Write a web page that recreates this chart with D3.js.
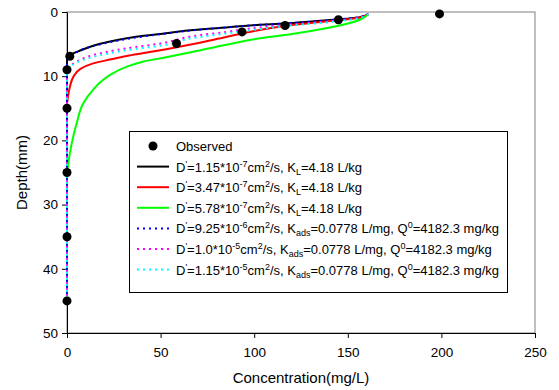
<!DOCTYPE html>
<html>
<head>
<meta charset="utf-8">
<script src="https://cdn.jsdelivr.net/npm/d3@7"></script>
<style>
  html, body { margin: 0; padding: 0; background: #fff; }
  svg { display: block; font-family: "Liberation Sans", Arial, sans-serif; }
</style>
</head>
<body>
<svg id="chart" width="559" height="390"></svg>
<script>
// ---- data ----
const xTicks = [0, 50, 100, 150, 200, 250];
const yTicks = [0, 10, 20, 30, 40, 50];

// observed: [concentration, depth]
const observedC = [199, 145, 116.5, 93.5, 58.5, 1.5, 0, 0, 0, 0, 0];
const observedD = [0.3, 1.2, 2.1, 3.1, 4.9, 6.9, 9, 15, 25, 35, 45];

const blackC = [161, 156.5, 139, 121, 103, 85, 67.5, 53, 41, 32, 23, 14, 7, 3, 1, 0, 0];
const blackD = [0.3, 0.8, 1.3, 1.7, 2.0, 2.4, 2.8, 3.3, 3.7, 4.1, 4.6, 5.25, 6.0, 6.5, 6.9, 7.3, 45];

const redC = [161, 156.5, 139, 121, 103, 85, 67.5, 53, 41, 32, 23, 14, 7, 3.4, 1.6, 0.5, 0, 0];
const redD = [0.3, 0.85, 1.45, 2.0, 2.8, 3.9, 5.0, 5.8, 6.4, 6.85, 7.4, 8.0, 8.9, 10.1, 11.6, 13.2, 14.5, 45];

const greenC = [161, 156.5, 139, 121, 103, 85, 67.5, 53, 41, 32, 23, 17.6, 14, 8.7, 5.2, 2.5, 0.7, 0, 0];
const greenD = [0.3, 1.2, 2.5, 3.4, 4.1, 5.1, 6.2, 7.05, 7.7, 8.5, 9.8, 11.0, 12.1, 14.2, 17.3, 20.5, 23.6, 26, 45];

const blueC = [161, 156, 139, 121, 103, 85, 67.5, 53, 41, 32, 23, 14, 7, 3, 1, 0, 0];
const blueD = [0.3, 0.8, 1.3, 1.7, 2.0, 2.4, 2.85, 3.35, 3.8, 4.2, 4.7, 5.3, 6.0, 6.6, 7.0, 7.4, 45];

const magentaC = [161, 156, 139, 121, 103, 85, 67.5, 50, 32, 14, 5.2, 1.5, 0, 0];
const magentaD = [0.3, 0.9, 1.5, 1.9, 2.4, 3.1, 3.75, 4.9, 5.65, 6.7, 7.7, 8.5, 9.0, 45];

const cyanC = [161, 156, 139, 121, 103, 85, 67.5, 50, 32, 14, 4.3, 1.5, 0, 0];
const cyanD = [0.3, 0.95, 1.6, 2.05, 2.65, 3.35, 4.05, 5.25, 5.95, 7.0, 8.0, 8.9, 9.6, 45];

const seriesNames = ["black", "red", "green", "blue", "magenta", "cyan"];
const seriesColors = ["#000000", "#ff0000", "#00ff00", "#0000ff", "#ff00ff", "#00ffff"];
const seriesDotted = [false, false, false, true, true, true];
const seriesC = [blackC, redC, greenC, blueC, magentaC, cyanC];
const seriesD = [blackD, redD, greenD, blueD, magentaD, cyanD];

// legend labels: segments [text, mode] mode: n normal, sup, sub
const legendLabels = [
  [["D","n"],["'","sup"],["=1.15*10","n"],["-7","sup"],["cm","n"],["2","sup"],["/s, K","n"],["L","sub"],["=4.18 L/kg","n"]],
  [["D","n"],["'","sup"],["=3.47*10","n"],["-7","sup"],["cm","n"],["2","sup"],["/s, K","n"],["L","sub"],["=4.18 L/kg","n"]],
  [["D","n"],["'","sup"],["=5.78*10","n"],["-7","sup"],["cm","n"],["2","sup"],["/s, K","n"],["L","sub"],["=4.18 L/kg","n"]],
  [["D","n"],["'","sup"],["=9.25*10","n"],["-6","sup"],["cm","n"],["2","sup"],["/s, K","n"],["ads","sub"],["=0.0778 L/mg, Q","n"],["0","sup"],["=4182.3 mg/kg","n"]],
  [["D","n"],["'","sup"],["=1.0*10","n"],["-5","sup"],["cm","n"],["2","sup"],["/s, K","n"],["ads","sub"],["=0.0778 L/mg, Q","n"],["0","sup"],["=4182.3 mg/kg","n"]],
  [["D","n"],["'","sup"],["=1.15*10","n"],["-5","sup"],["cm","n"],["2","sup"],["/s, K","n"],["ads","sub"],["=0.0778 L/mg, Q","n"],["0","sup"],["=4182.3 mg/kg","n"]]
];

// ---- layout ----
const svg = d3.select("#chart");
const mLeft = 67, mRight = 535, mTop = 12, mBottom = 333;
const x = d3.scaleLinear().domain([0, 250]).range([mLeft, mRight]);
const y = d3.scaleLinear().domain([0, 50]).range([mTop, mBottom]);

// plot border (gray)
svg.append("rect").attr("x", mLeft).attr("y", mTop).attr("width", mRight - mLeft).attr("height", mBottom - mTop)
  .attr("fill", "none").attr("stroke", "#808080").attr("stroke-width", 1);

// axes
const xAxis = svg.append("g").attr("transform", `translate(0,${mBottom})`)
  .call(d3.axisBottom(x).tickValues(xTicks).tickSize(5).tickPadding(9).tickSizeOuter(0));
const yAxis = svg.append("g").attr("transform", `translate(${mLeft},0)`)
  .call(d3.axisLeft(y).tickValues(yTicks).tickSize(5).tickPadding(4).tickSizeOuter(0));
[xAxis, yAxis].forEach(a => {
  a.select(".domain").attr("stroke", "#000");
  a.selectAll(".tick line").attr("stroke", "#000");
  a.selectAll("text").attr("font-size", 13.5).attr("fill", "#000")
    .attr("font-family", '"Liberation Sans", Arial, sans-serif');
});

// axis titles
svg.append("text").attr("x", (mLeft + mRight) / 2).attr("y", 383).attr("text-anchor", "middle")
  .attr("font-size", 15).text("Concentration(mg/L)");
svg.append("text").attr("transform", `translate(27,${(mTop + mBottom) / 2}) rotate(-90)`)
  .attr("text-anchor", "middle").attr("font-size", 15).text("Depth(mm)");

// lines
const line = d3.line().x(d => x(d[0])).y(d => y(d[1])).curve(d3.curveMonotoneY);
seriesNames.forEach((name, i) => {
  const pts = seriesC[i].map((c, j) => [c, seriesD[i][j]]);
  const p = svg.append("path").datum(pts).attr("d", line).attr("fill", "none")
    .attr("stroke", seriesColors[i]).attr("stroke-width", 2);
  if (seriesDotted[i]) p.attr("stroke-dasharray", "2,4");
});

// observed markers
const obs = observedC.map((c, j) => [c, observedD[j]]);
svg.selectAll("circle.obs").data(obs).join("circle").attr("class", "obs")
  .attr("cx", d => x(d[0])).attr("cy", d => y(d[1])).attr("r", 4.5).attr("fill", "#000");

// legend
const lg = svg.append("g");
lg.append("rect").attr("x", 129.5).attr("y", 131.5).attr("width", 378).attr("height", 161)
  .attr("fill", "#fff").attr("stroke", "#000").attr("stroke-width", 1);
const rowY0 = 146, rowStep = 20.6;
lg.append("circle").attr("cx", 153).attr("cy", rowY0).attr("r", 4.5).attr("fill", "#000");
lg.append("text").attr("x", 176).attr("y", rowY0 + 5).attr("font-size", 13).text("Observed");
legendLabels.forEach((segs, i) => {
  const yy = rowY0 + rowStep * (i + 1);
  const ln = lg.append("line").attr("x1", 137).attr("x2", 169).attr("y1", yy).attr("y2", yy)
    .attr("stroke", seriesColors[i]).attr("stroke-width", 2);
  if (seriesDotted[i]) ln.attr("stroke-dasharray", "2,4");
  const t = lg.append("text").attr("x", 176).attr("y", yy + 5).attr("font-size", 13);
  let shift = 0;
  segs.forEach(([s, mode]) => {
    let target = mode === "sup" ? -5 : mode === "sub" ? 3 : 0;
    const ts = t.append("tspan").attr("dy", target - shift).text(s);
    if (mode !== "n") ts.attr("font-size", 9);
    shift = target;
  });
});
</script>
</body>
</html>
